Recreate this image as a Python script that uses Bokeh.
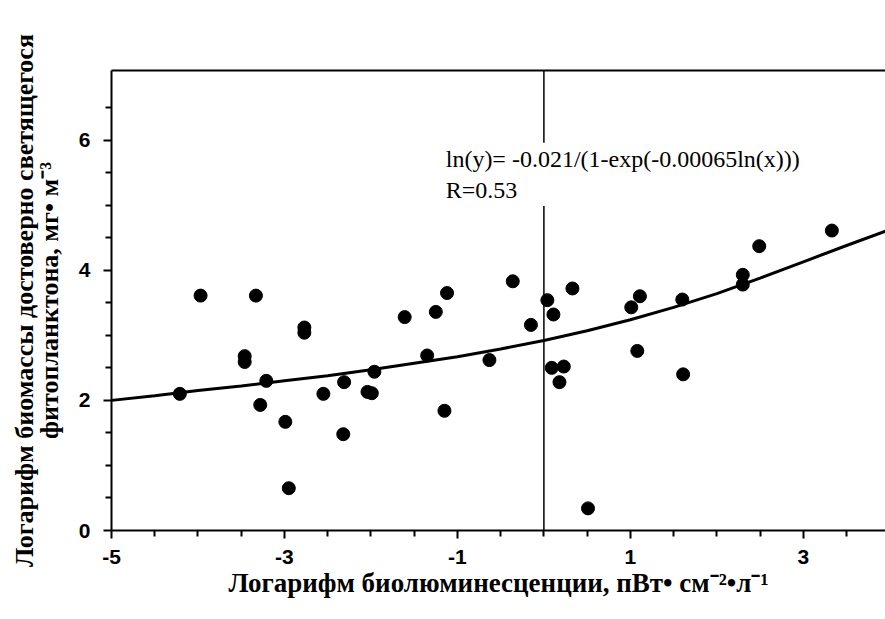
from bokeh.plotting import figure
from bokeh.models import Range1d, LinearAxis, FixedTicker, Span, Label
from bokeh.embed import file_html
from bokeh.resources import INLINE

# Scatter data (log bioluminescence vs log biomass)
x_pts = [-4.21, -3.97, -3.46, -3.46, -3.33, -3.28, -3.21, -2.99, -2.95, -2.77, -2.77,
         -2.55, -2.31, -2.32, -2.04, -1.99, -1.96, -1.61, -1.35, -1.25, -1.15, -1.12,
         -0.63, -0.36, -0.15, 0.04, 0.11, 0.09, 0.18, 0.23, 0.33, 0.51,
         1.01, 1.11, 1.08, 1.60, 1.61, 2.30, 2.30, 2.49, 3.33]
y_pts = [2.10, 3.61, 2.68, 2.59, 3.61, 1.93, 2.30, 1.67, 0.65, 3.12, 3.04,
         2.10, 2.28, 1.48, 2.13, 2.11, 2.44, 3.28, 2.69, 3.36, 1.84, 3.65,
         2.62, 3.83, 3.16, 3.54, 3.32, 2.50, 2.28, 2.52, 3.72, 0.34,
         3.43, 3.60, 2.76, 3.55, 2.40, 3.93, 3.78, 4.37, 4.61]

# Fitted curve
x_fit = [-5.0, -4.5, -4.0, -3.5, -3.0, -2.5, -2.0, -1.5, -1.0, -0.5, 0.0, 0.5,
         1.0, 1.5, 2.0, 2.5, 3.0, 3.5, 3.95]
y_fit = [2.00, 2.07, 2.15, 2.22, 2.30, 2.38, 2.47, 2.57, 2.67, 2.79, 2.92, 3.07,
         3.24, 3.43, 3.64, 3.88, 4.13, 4.38, 4.60]

x_ticks = [-5, -3, -1, 1, 3]
x_tick_labels = ["-5", "-3", "-1", "1", "3"]
y_ticks = [0, 2, 4, 6]
y_tick_labels = ["0", "2", "4", "6"]
x_minor = [-4.5, -4, -3.5, -2.5, -2, -1.5, -0.5, 0, 0.5, 1.5, 2, 2.5, 3.5]
y_minor = [0.5, 1, 1.5, 2.5, 3, 3.5, 4.5, 5, 5.5, 6.5]

equation = "ln(y)= -0.021/(1-exp(-0.00065ln(x)))\nR=0.53"

p = figure(width=885, height=604, output_backend="svg", toolbar_location=None,
           x_range=Range1d(-5, 3.95), y_range=Range1d(0, 7.07),
           min_border_left=111, min_border_right=0, min_border_top=70,
           min_border_bottom=74, x_axis_type=None, y_axis_type=None)
p.grid.visible = False
p.outline_line_color = None
p.background_fill_color = "white"

tick_font = "Liberation Sans"

xa = LinearAxis(ticker=FixedTicker(ticks=x_ticks, minor_ticks=x_minor))
xa.axis_label = "Логарифм биолюминесценции, пВт• см⁻²•л⁻¹"
xa.major_label_overrides = dict(zip(x_ticks, x_tick_labels))
ya = LinearAxis(ticker=FixedTicker(ticks=y_ticks, minor_ticks=y_minor))
ya.axis_label = "Логарифм биомассы достоверно светящегося\nфитопланктона, мг• м⁻³"
ya.major_label_overrides = dict(zip(y_ticks, y_tick_labels))
for ax in (xa, ya):
    ax.axis_line_width = 2
    ax.axis_line_color = "black"
    ax.major_tick_line_width = 2
    ax.minor_tick_line_width = 2
    ax.major_tick_out = 8
    ax.major_tick_in = 0
    ax.minor_tick_out = 6
    ax.minor_tick_in = 0
    ax.major_label_text_font = tick_font
    ax.major_label_text_font_style = "bold"
    ax.major_label_text_font_size = "21px"
    ax.major_label_text_color = "black"
    ax.axis_label_text_font = "Liberation Serif"
    ax.axis_label_text_font_style = "bold"
    ax.axis_label_text_font_size = "27px"
    ax.axis_label_text_color = "black"
xa.major_label_standoff = 11
xa.axis_label_standoff = 1
ya.major_label_standoff = 13
ya.axis_label_standoff = 12
ya.axis_label_text_line_height = 0.85
ya.axis_label_text_font_size = "26px"
p.add_layout(xa, "below")
p.add_layout(ya, "left")

top = LinearAxis(ticker=FixedTicker(ticks=[]), axis_line_width=2,
                 major_label_text_font_size="0px", major_tick_line_color=None,
                 minor_tick_line_color=None)
p.add_layout(top, "above")

p.add_layout(Span(location=0, dimension="height", line_color="black", line_width=1.5))

p.line(x_fit, y_fit, line_color="black", line_width=3)
p.scatter(x_pts, y_pts, size=13, fill_color="black", line_color="black")

lab = Label(x=-1.17, y=5.96, text=equation, text_font="Liberation Serif",
            text_font_size="24px", text_color="black", text_baseline="top",
            background_fill_color="white", padding=3)
p.add_layout(lab)

open("out.html", "w").write(file_html(p, INLINE))
